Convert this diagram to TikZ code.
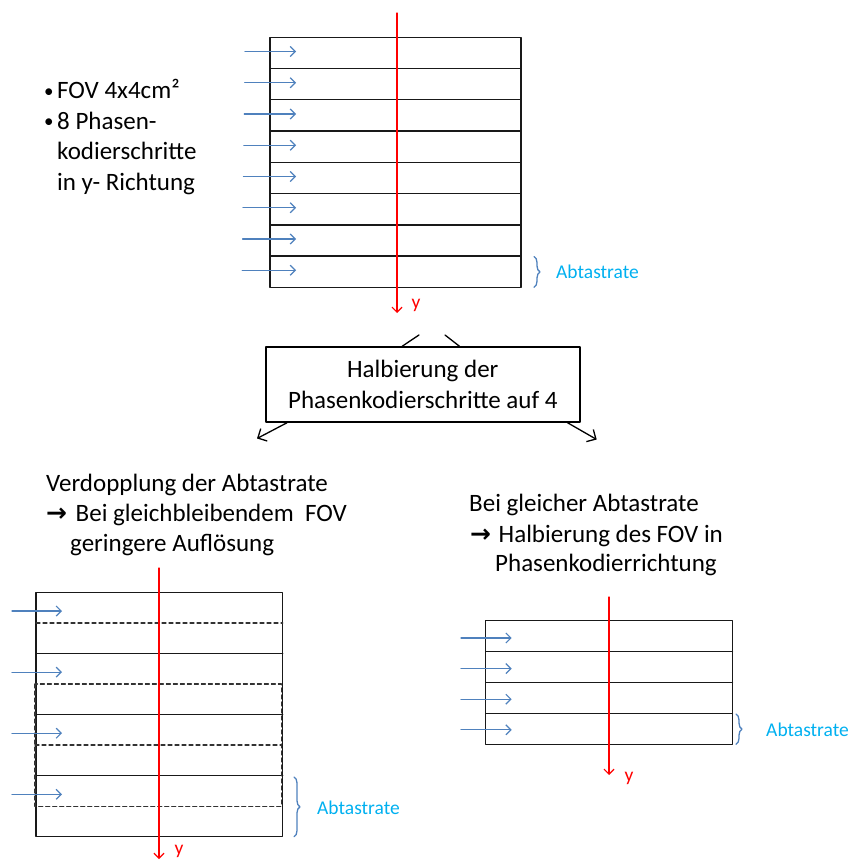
\documentclass[tikz,border=0pt]{standalone}
\usepackage{fontspec}
\setmainfont{Carlito}
\newfontfamily\pfeilfont{DejaVu Sans}
\usetikzlibrary{arrows.meta,decorations.pathreplacing}
\definecolor{kblau}{HTML}{4F81BD}
\definecolor{acyan}{HTML}{00B0F0}
\newcommand{\punkt}{\raisebox{1.5pt}{\fontsize{19}{20}\selectfont•}}

\begin{document}
\begin{tikzpicture}[x=1pt,y=-1pt,>={Straight Barb[length=5pt,width=10pt]},line cap=round,line join=round,
            gitter/.style={line width=1.4pt,black!90},
            gestrichelt/.style={line width=1.3pt,black!80,dash pattern=on 4pt off 3pt},
            pfeil/.style={->,kblau,line width=1.2pt},
            achse/.style={->,red,line width=1.2pt},
            schwarzpfeil/.style={-{Straight Barb[length=7pt,width=14pt]},line width=1.3pt},
            klammer/.style={kblau,line width=1.3pt,decorate,decoration={brace,amplitude=6pt}},
            gross/.style={font=\fontsize{25}{30.5}\selectfont,inner sep=0pt},
            klein/.style={font=\fontsize{19.5}{23}\selectfont,inner sep=0pt}]
            \useasboundingbox (0,0) rectangle (850,861);

            \draw[gitter] (270,37.3) rectangle (521,287.3);
            \foreach \i in {1,...,7}
                \draw[gitter] (270,{37.3+31.25*\i}) -- (521,{37.3+31.25*\i});
            \foreach \i in {0,...,7}
                \draw[pfeil] ({245-0.4*\i},{51.5+31.25*\i}) -- (296,{51.5+31.25*\i});
            \draw[achse] (397,13) -- (397,313);
            \node[klein,text=red] (yoben) at (416,305) {y};
            \draw[klammer] (534,256.5) -- (534,287.3);
            \node[klein,text=acyan,anchor=base west] (abtoben) at (556,278) {Abtastrate};

            \node[gross,anchor=base west] (bul1) at (44,99) {\punkt};
            \node[gross,anchor=base west] (fov) at (57,99) {FOV 4x4cm²};
            \node[gross,anchor=base west] (bul2) at (44,129.5) {\punkt};
            \node[gross,anchor=base west] (phasen) at (57,129.5) {8 Phasen-};
            \node[gross,anchor=base west] (kodier) at (57,160) {kodierschritte};
            \node[gross,anchor=base west] (richtung) at (57,190.5) {in y- Richtung};

            \node[gross,draw,line width=1.4pt,minimum width=314pt,minimum height=75pt,align=center] (halb) at (422.8,384.5) {Halbierung der\\Phasenkodierschritte auf 4};
            \coordinate (obenl) at (419,335);
            \coordinate (obenr) at (445,335);
            \draw[line width=1.3pt] (obenl) -- ([xshift=137pt]halb.north west);
            \draw[line width=1.3pt] (obenr) -- ([xshift=-121pt]halb.north east);
            \coordinate (zielL) at (257,438.5);
            \coordinate (zielR) at (596.7,439.5);
            \draw[schwarzpfeil] ([xshift=22pt]halb.south west) -- (zielL);
            \draw[schwarzpfeil] ([xshift=-13pt]halb.south east) -- (zielR);

            \node[gross,anchor=base west] (verd) at (46,491) {Verdopplung der Abtastrate};
            \node[gross,anchor=base west] (gleich) at (46,521.7) {\makebox[29.5pt][l]{\pfeilfont\bfseries →}Bei gleichbleibendem\ \ FOV};
            \node[gross,anchor=base west] (aufl) at (70,551.7) {geringere Auflösung};

            \node[gross,anchor=base west] (bei) at (469,511.7) {Bei gleicher Abtastrate};
            \node[gross,anchor=base west] (halbfov) at (470,542) {\makebox[28.5pt][l]{\pfeilfont\bfseries →}Halbierung des FOV in};
            \node[gross,anchor=base west] (richtr) at (495,571.7) {Phasenkodierrichtung};

            \draw[gitter] (36,592.3) rectangle (282.7,836.7);
            \foreach \i in {1,2,3}
                \draw[gitter] (36,{592.3+61.1*\i}) -- (282.7,{592.3+61.1*\i});
            \draw[gestrichelt] (36,622.9) -- (282.7,622.9);
            \draw[gestrichelt] (35,684) rectangle (281.5,806.2);
            \draw[gestrichelt] (35,745.1) -- (281.5,745.1);
            \foreach \i in {0,...,3}
                \draw[pfeil] (12,{611+61.1*\i}) -- (62,{611+61.1*\i});
            \draw[achse] (159,568) -- (159,859);
            \node[klein,text=red,anchor=north] (yunten) at (179,845) {y};
            \draw[klammer] (294,777) -- (294,836.7);
            \node[klein,text=acyan,anchor=base west] (abtlinks) at (317,814) {Abtastrate};

            \draw[gitter] (485.7,620.7) rectangle (732.3,744.3);
            \foreach \i in {1,2,3}
                \draw[gitter] (485.7,{620.7+30.9*\i}) -- (732.3,{620.7+30.9*\i});
            \foreach \i in {0,...,3}
                \draw[pfeil] (461,{638+30.6*\i}) -- (511.7,{638+30.6*\i});
            \draw[achse] (609,597) -- (609,775);
            \node[klein,text=red] (yrechts) at (629,778) {y};
            \draw[klammer] (736,714) -- (736,744.3);
            \node[klein,text=acyan,anchor=base west] (abtrechts) at (766,736.6) {Abtastrate};
        \end{tikzpicture}
\end{document}
